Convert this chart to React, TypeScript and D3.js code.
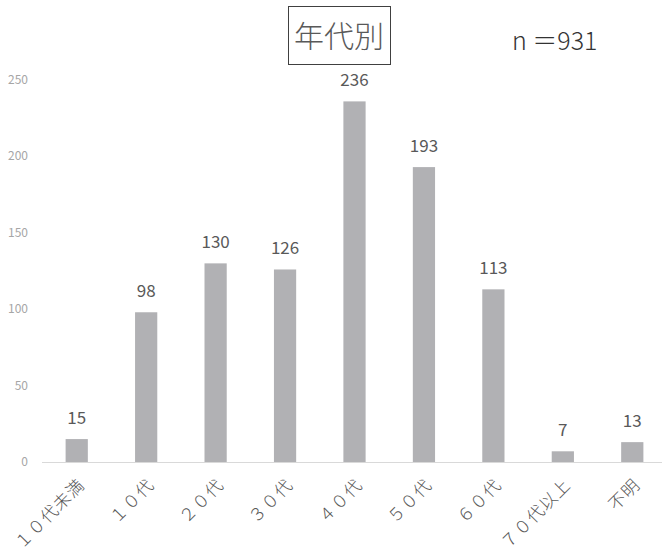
import React from 'react';
import * as d3 from 'd3';

const categories = ['１０代未満', '１０代', '２０代', '３０代', '４０代', '５０代', '６０代', '７０代以上', '不明'];
const counts = [15, 98, 130, 126, 236, 193, 113, 7, 13];
const yTicks = [0, 50, 100, 150, 200, 250];

const W = 662;
const H = 556;
const FONT = '"Noto Sans CJK JP", "Noto Sans", sans-serif';

const App: React.FC = () => {
    const x = d3.scaleBand<string>()
        .domain(categories)
        .range([42, 667])
        .paddingInner(0.68)
        .paddingOuter(0.34);

    const y = d3.scaleLinear()
        .domain([0, 250])
        .range([462, 80]);

    return (
        <svg width={W} height={H} style={{position: 'absolute', left: 0, top: 0, fontFamily: FONT}}>
            <rect width={W} height={H} fill="#fff"/>

            {/* タイトル */}
            <rect x={288.5} y={6.5} width={102} height={58} fill="none" stroke="#404040" strokeWidth={1}/>
            <text x={339} y={47} textAnchor="middle" fontSize={30} fill="#595959" fontWeight={300}>年代別</text>
            <text x={512} y={50} fontSize={25} fill="#333" fontWeight={300}>n ＝931</text>

            {/* Y軸目盛 */}
            {yTicks.map(t => (
                <text key={t} x={28} y={y(t) + 4} textAnchor="end" fontSize={12} fill="#a6a6a6">{t}</text>
            ))}

            {/* 棒 */}
            {categories.map((c, i) => (
                <rect key={c} x={x(c)} y={y(counts[i])} width={x.bandwidth()} height={y(0) - y(counts[i])}
                      fill="#b1b1b4"/>
            ))}

            {/* 値ラベル */}
            {categories.map((c, i) => (
                <text key={c} x={(x(c) || 0) + x.bandwidth() / 2} y={y(counts[i]) - 15}
                      textAnchor="middle" fontSize={17} fill="#595959">{counts[i]}</text>
            ))}

            <line x1={42} x2={W} y1={y(0) + 0.5} y2={y(0) + 0.5} stroke="#d9d9d9" strokeWidth={1}/>

            {/* X軸ラベル (-45°) */}
            {categories.map(c => {
                const cx = (x(c) || 0) + x.bandwidth() / 2 + 9;
                return (
                    <text key={c} transform={`translate(${cx},486) rotate(-45)`} textAnchor="end"
                          fontSize={17} letterSpacing={1} fontWeight={300} fill="#595959">{c}</text>
                );
            })}
        </svg>
    );
};

export default App;
